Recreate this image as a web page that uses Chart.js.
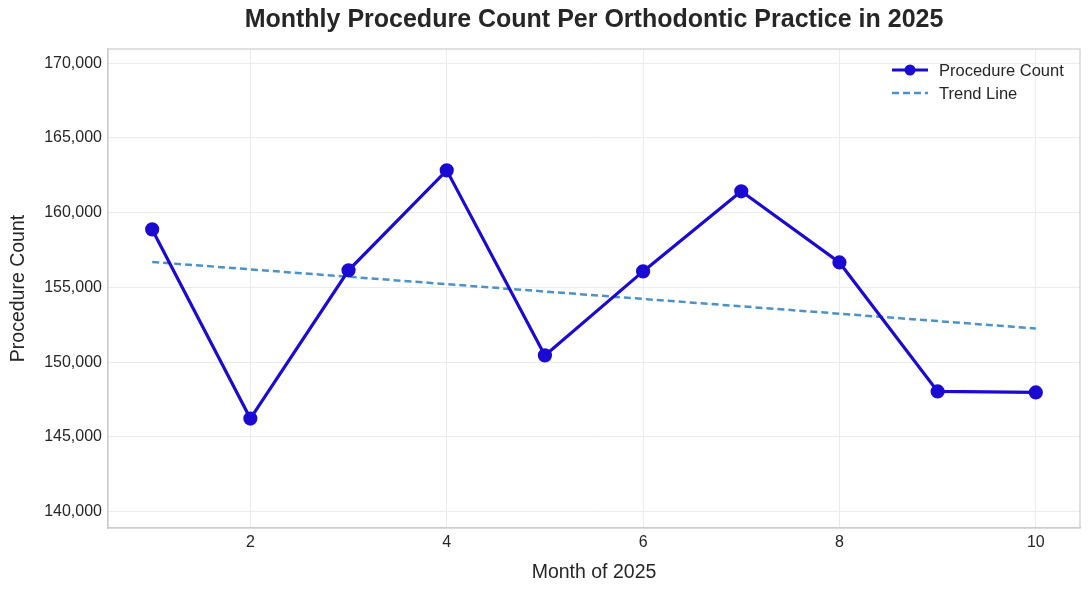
<!DOCTYPE html>
<html>
<head>
<meta charset="utf-8">
<script src="https://cdn.jsdelivr.net/npm/chart.js@4.4.1/dist/chart.umd.min.js"></script>
<style>
  html, body { margin: 0; padding: 0; background: #fff; }
  #wrap { width: 1089px; height: 590px; }
</style>
</head>
<body>
<div id="wrap"><canvas id="chart" width="1089" height="590"></canvas></div>
<script>
// values
const months = [1, 2, 3, 4, 5, 6, 7, 8, 9, 10];
const procedureCounts = [158880, 146220, 156140, 162830, 150450, 156070, 161430, 156670, 148040, 147970];
const trendMonths = [1, 10];
const trendValues = [156700, 152250];
const xTicks = [2, 4, 6, 8, 10];
const yTicks = [140000, 145000, 150000, 155000, 160000, 165000, 170000];
const chartTitle = 'Monthly Procedure Count Per Orthodontic Practice in 2025';

const FONT = '"Liberation Sans", Arial, sans-serif';
const TEXT = '#262626';
const LINE_COLOR = '#1a0ad2';
const TREND_COLOR = '#4a92c8';

// title centred over the plot, frame round it, legend inside top right
const decorations = {
  id: 'decorations',
  afterDraw(chart) {
    const { ctx, chartArea } = chart;
    ctx.save();
    ctx.strokeStyle = '#cccccc';
    ctx.lineWidth = 1.2;
    ctx.strokeRect(chartArea.left, chartArea.top, chartArea.right - chartArea.left, chartArea.bottom - chartArea.top);

    ctx.fillStyle = TEXT;
    ctx.textAlign = 'center';
    ctx.textBaseline = 'middle';
    ctx.font = 'bold 25px ' + FONT;
    ctx.fillText(chartTitle, (chartArea.left + chartArea.right) / 2, 20);

    const x0 = chartArea.right - 188;
    const y0 = chartArea.top + 21;
    ctx.textAlign = 'left';
    ctx.strokeStyle = LINE_COLOR;
    ctx.lineWidth = 3.2;
    ctx.beginPath();
    ctx.moveTo(x0, y0);
    ctx.lineTo(x0 + 36, y0);
    ctx.stroke();
    ctx.fillStyle = LINE_COLOR;
    ctx.beginPath();
    ctx.arc(x0 + 18, y0, 5.5, 0, Math.PI * 2);
    ctx.fill();
    ctx.strokeStyle = TREND_COLOR;
    ctx.lineWidth = 2.5;
    ctx.setLineDash([7, 4]);
    ctx.beginPath();
    ctx.moveTo(x0, y0 + 23);
    ctx.lineTo(x0 + 36, y0 + 23);
    ctx.stroke();
    ctx.setLineDash([]);
    ctx.fillStyle = TEXT;
    ctx.font = '16.5px ' + FONT;
    ctx.fillText('Procedure Count', x0 + 47, y0 + 1);
    ctx.fillText('Trend Line', x0 + 47, y0 + 24);
    ctx.restore();
  }
};

new Chart(document.getElementById('chart'), {
  type: 'scatter',
  data: {
    datasets: [
      {
        label: 'Procedure Count',
        data: months.map((m, i) => ({ x: m, y: procedureCounts[i] })),
        showLine: true,
        borderColor: LINE_COLOR,
        backgroundColor: LINE_COLOR,
        borderWidth: 3.2,
        pointRadius: 5.5,
        pointHoverRadius: 5.5,
        order: 1,
      },
      {
        label: 'Trend Line',
        data: trendMonths.map((m, i) => ({ x: m, y: trendValues[i] })),
        showLine: true,
        borderColor: TREND_COLOR,
        borderWidth: 2.5,
        borderDash: [7, 4],
        pointRadius: 0,
        order: 2,
      },
    ],
  },
  options: {
    responsive: false,
    animation: false,
    layout: { padding: { left: 0, right: 9, top: 49, bottom: 0 } },
    plugins: {
      legend: { display: false },
      tooltip: { enabled: false },
    },
    scales: {
      x: {
        type: 'linear',
        min: 0.55,
        max: 10.45,
        afterBuildTicks: s => { s.ticks = xTicks.map(v => ({ value: v })); },
        afterFit: s => { s.height = 62; },
        grid: { color: '#ebebeb', drawTicks: false },
        border: { color: '#cccccc', width: 1.2 },
        ticks: { color: TEXT, padding: 5, font: { family: FONT, size: 16 } },
        title: {
          display: true,
          text: 'Month of 2025',
          color: TEXT,
          font: { family: FONT, size: 19.5 },
          padding: { top: 8, bottom: 6 },
        },
      },
      y: {
        min: 138900,
        max: 170950,
        afterBuildTicks: s => { s.ticks = yTicks.map(v => ({ value: v })); },
        afterFit: s => { s.width = 108; },
        grid: { color: '#ebebeb', drawTicks: false },
        border: { color: '#cccccc', width: 1.2 },
        ticks: {
          color: TEXT,
          padding: 6,
          font: { family: FONT, size: 16 },
          callback: v => v.toLocaleString('en-US'),
        },
        title: {
          display: true,
          text: 'Procedure Count',
          color: TEXT,
          font: { family: FONT, size: 19.5 },
          padding: { top: 7, bottom: 4 },
        },
      },
    },
  },
  plugins: [decorations],
});
</script>
</body>
</html>
